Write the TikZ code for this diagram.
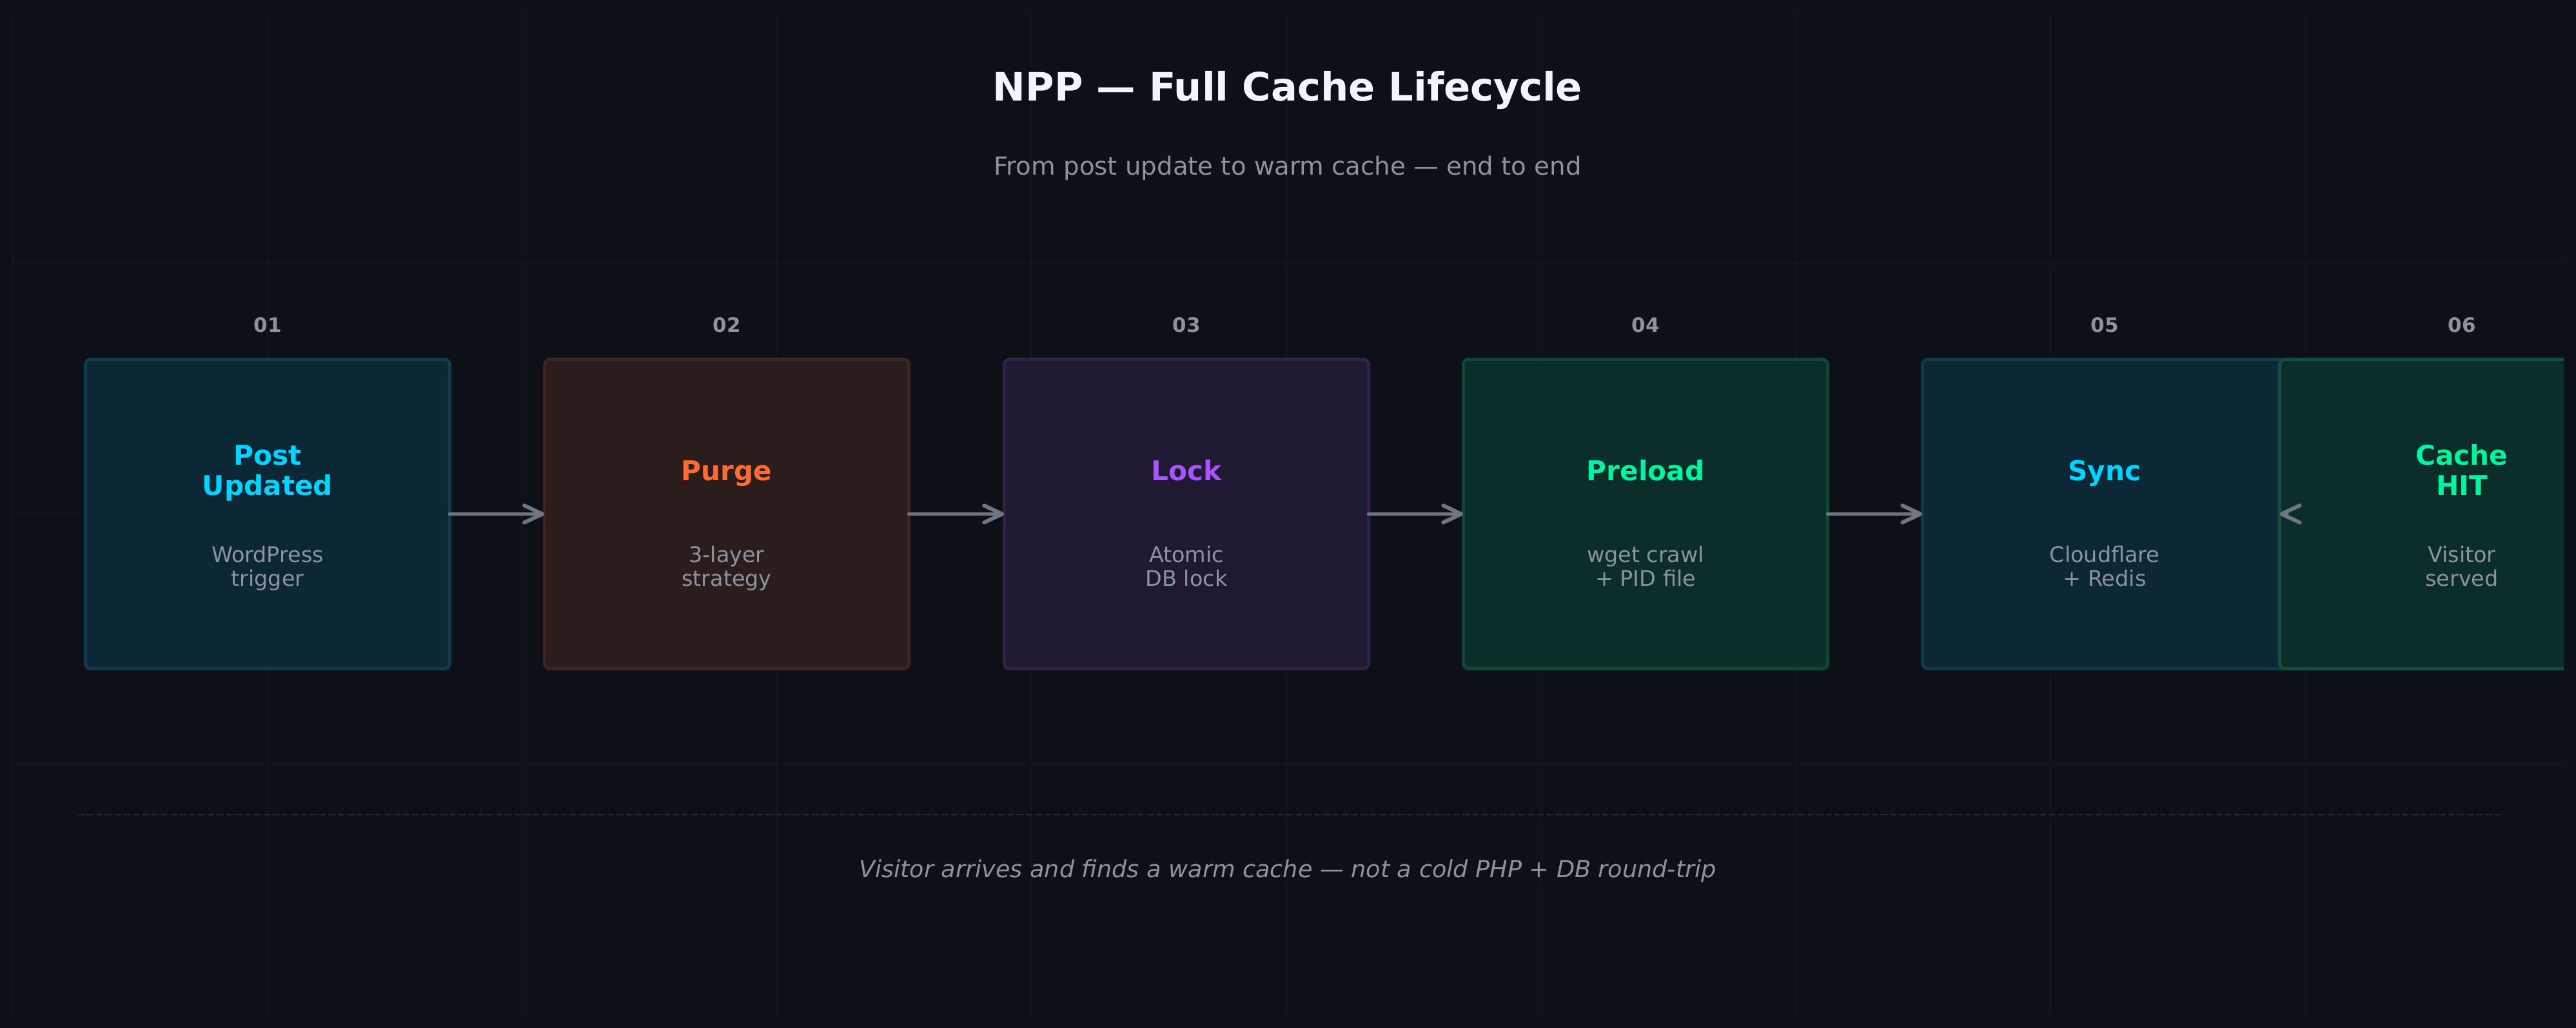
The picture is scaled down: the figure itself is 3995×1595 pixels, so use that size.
\documentclass[tikz,border=0pt]{standalone}
\usepackage{fontspec}
\setmainfont{DejaVu Sans}
\usetikzlibrary{arrows.meta}

\definecolor{bg}{HTML}{0D1117}
\definecolor{gridc}{HTML}{12161E}
\definecolor{dashc}{HTML}{22272E}
\definecolor{muted}{HTML}{8B949E}
\definecolor{arrowc}{HTML}{6E7681}
\definecolor{titlec}{HTML}{F0F6FC}
\definecolor{cyanc}{HTML}{00D4FF}
\definecolor{orangec}{HTML}{FF6B35}
\definecolor{purplec}{HTML}{A855F7}
\definecolor{greenc}{HTML}{00F5A0}
\definecolor{cyanfill}{HTML}{0C2836}
\definecolor{cyanline}{HTML}{0F3B4B}
\definecolor{orangefill}{HTML}{2C1D1D}
\definecolor{orangeline}{HTML}{3E2421}
\definecolor{purplefill}{HTML}{201934}
\definecolor{purpleline}{HTML}{2F2148}
\definecolor{greenfill}{HTML}{0C2E2A}
\definecolor{greenline}{HTML}{0E4834}
\definecolor{greenhi}{HTML}{0E5040}

\begin{document}
\begin{tikzpicture}[x=0.01cm,y=-0.01cm,>={Straight Barb[length=8pt,width=7.5pt,round]},
  stepbox/.style={draw,line width=1.4pt,rounded corners=2.5pt,minimum width=5.65cm,
    minimum height=4.8cm,outer sep=0pt,inner sep=0pt},
  stepnum/.style={anchor=base,text=muted,font=\fontsize{8.8pt}{10.5pt}\selectfont\bfseries},
  steptitle/.style={anchor=base,align=center,font=\fontsize{12pt}{13.4pt}\selectfont\bfseries},
  stepdesc/.style={anchor=base,align=center,text=muted,font=\fontsize{9.5pt}{10.8pt}\selectfont},
  flow/.style={->,draw=arrowc,line width=1.7pt,line cap=round}]

% background
\fill[bg] (0,0) rectangle (3995,1595);
\useasboundingbox (0,0) rectangle (3995,1595);

% grid
\foreach \gx in {20,415,...,3575}
  \draw[gridc,line width=0.3pt] (\gx,19) -- (\gx,1575);
\foreach \gy in {408,797,1186}
  \draw[gridc,line width=0.3pt] (20,\gy) -- (3976,\gy);

% heading
\node[anchor=base,text=titlec,font=\fontsize{17.25pt}{20pt}\selectfont\bfseries] (title) at (1997,157) {NPP — Full Cache Lifecycle};
\node[anchor=base,text=muted,font=\fontsize{11pt}{13pt}\selectfont] (subtitle) at (1997,272) {From post update to warm cache — end to end};

% step boxes
\node[stepbox,fill=cyanfill,draw=cyanline] (s1) at (415,797.5) {};
\node[stepbox,fill=orangefill,draw=orangeline] (s2) at (1127,797.5) {};
\node[stepbox,fill=purplefill,draw=purpleline] (s3) at (1840,797.5) {};
\node[stepbox,fill=greenfill,draw=greenline] (s4) at (2552,797.5) {};
\node[stepbox,fill=cyanfill,draw=cyanline] (s5) at (3264,797.5) {};
\begin{scope}
  \clip (3400,0) rectangle (3976,1595);
  \node[stepbox,fill=greenfill,draw=greenhi] (s6) at (3818,797.5) {};
\end{scope}

% step numbers
\node[stepnum] (n1) at (415,516) {01};
\node[stepnum] (n2) at (1127,516) {02};
\node[stepnum] (n3) at (1840,516) {03};
\node[stepnum] (n4) at (2552,516) {04};
\node[stepnum] (n5) at (3264,516) {05};
\node[stepnum] (n6) at (3818,516) {06};

% step titles (base = last line)
\node[steptitle,text=cyanc] (t1) at (415,769) {Post\\Updated};
\node[steptitle,text=orangec] (t2) at (1127,746) {Purge};
\node[steptitle,text=purplec] (t3) at (1840,746) {Lock};
\node[steptitle,text=greenc] (t4) at (2552,746) {Preload};
\node[steptitle,text=cyanc] (t5) at (3264,746) {Sync};
\node[steptitle,text=greenc] (t6) at (3818,769) {Cache\\HIT};

% step descriptions
\node[stepdesc] (d1) at (415,910) {WordPress\\trigger};
\node[stepdesc] (d2) at (1127,910) {3-layer\\strategy};
\node[stepdesc] (d3) at (1840,910) {Atomic\\DB lock};
\node[stepdesc] (d4) at (2552,910) {wget crawl\\+ PID file};
\node[stepdesc] (d5) at (3264,910) {Cloudflare\\+ Redis};
\node[stepdesc] (d6) at (3818,910) {Visitor\\served};

% arrows
\draw[flow] (s1.east) -- (s2.west);
\draw[flow] (s2.east) -- (s3.west);
\draw[flow] (s3.east) -- (s4.west);
\draw[flow] (s4.east) -- (s5.west);
\draw[flow] (s5.east) -- (s6.west);

% footer
\draw[dashc,line width=0.7pt,dash pattern=on 3pt off 1.1pt] (120,1264) -- (3878,1264);
\node[anchor=base,text=muted,font=\fontsize{10.4pt}{12pt}\selectfont\itshape] (footer) at (1997,1362) {Visitor arrives and finds a warm cache — not a cold PHP + DB round-trip};

\end{tikzpicture}
\end{document}
